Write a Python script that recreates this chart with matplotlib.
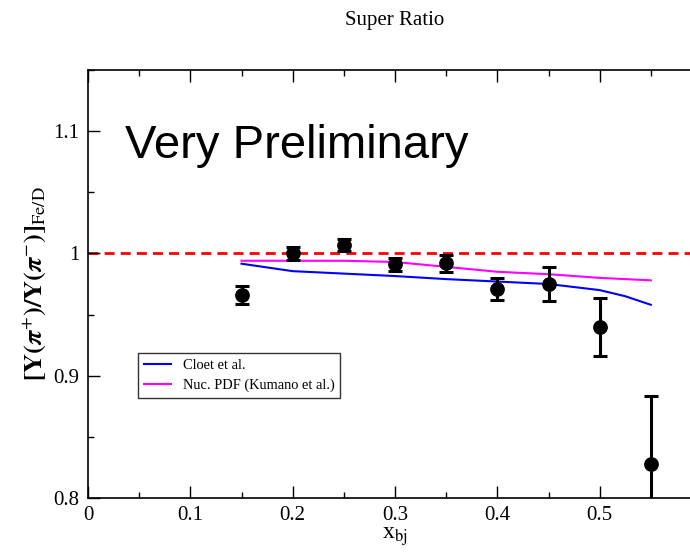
import matplotlib
matplotlib.use("Agg")
import matplotlib.pyplot as plt
from matplotlib.ticker import MultipleLocator

# Data
x_data = [0.15, 0.20, 0.25, 0.30, 0.35, 0.40, 0.45, 0.50, 0.55]
y_data = [0.966, 1.000, 1.007, 0.991, 0.992, 0.971, 0.975, 0.940, 0.828]
y_err = [0.0075, 0.005, 0.005, 0.0055, 0.007, 0.009, 0.014, 0.0235, 0.0555]

x_cloet = [0.15, 0.20, 0.25, 0.30, 0.35, 0.40, 0.45, 0.50, 0.525, 0.55]
y_cloet = [0.9916, 0.9855, 0.9835, 0.9815, 0.979, 0.977, 0.975, 0.970, 0.965, 0.958]

x_kumano = [0.15, 0.20, 0.25, 0.30, 0.35, 0.40, 0.45, 0.50, 0.55]
y_kumano = [0.994, 0.994, 0.994, 0.993, 0.989, 0.985, 0.983, 0.980, 0.978]

plt.rcParams['font.family'] = ['Liberation Serif', 'DejaVu Serif']
plt.rcParams['mathtext.fontset'] = 'stix'

fig = plt.figure(figsize=(6.9, 5.52), dpi=100)
ax = fig.add_axes([88/690, 54/552, 614/690, 428/552])

ax.axhline(1.0, color='#ff0000', lw=2.0, dashes=(3.6, 2.2), zorder=1)
ax.plot(x_cloet, y_cloet, color='#0000ff', lw=1.5, label='Cloet et al.', zorder=2)
ax.plot(x_kumano, y_kumano, color='#ff00ff', lw=1.5, label='Nuc. PDF (Kumano et al.)', zorder=2)
ax.errorbar(x_data, y_data, yerr=y_err, fmt='o', color='black', ms=9.6,
            elinewidth=2.2, capsize=5, capthick=2.2, zorder=3)

ax.set_xlim(0, 0.6)
ax.set_ylim(0.8, 1.15)
ax.xaxis.set_minor_locator(MultipleLocator(0.05))
ax.yaxis.set_minor_locator(MultipleLocator(0.05))
ax.set_xticks([0, 0.1, 0.2, 0.3, 0.4, 0.5])
ax.set_xticklabels(['0', '0.1', '0.2', '0.3', '0.4', '0.5'])
ax.set_yticks([0.8, 0.9, 1.0, 1.1])
ax.set_yticklabels(['0.8', '0.9', '1', '1.1'])
ax.tick_params(which='both', direction='in', top=True, right=True, labelsize=15, width=1)
ax.tick_params(which='major', length=8.6, pad=6)
ax.tick_params(which='minor', length=4.3)
for s in ax.spines.values():
    s.set_linewidth(1.2)

ax.set_xlabel(r'x$_{\mathrm{bj}}$', fontsize=17, labelpad=0)
ax.set_ylabel(r'$\mathbf{[Y(}\boldsymbol{\pi}^{+}\mathbf{)/Y(}\boldsymbol{\pi}^{-}\mathbf{)]}_{\mathrm{Fe/D}}$',
              fontsize=19, labelpad=4)
fig.text(395/690, 1 - 20/552, 'Super Ratio', ha='center', va='center', fontsize=15)

ax.text(0.036, 1.0784, 'Very Preliminary', fontsize=34, family='Liberation Sans',
        ha='left', va='baseline')

leg = ax.legend(loc='upper left', bbox_to_anchor=((138-88)/614, (498-353)/428),
                fontsize=10.4, frameon=True, fancybox=False, edgecolor='black',
                handlelength=1.9, borderpad=0.4, labelspacing=0.45, handletextpad=0.8,
                borderaxespad=0)
leg.get_frame().set_linewidth(1.0)

fig.savefig('out.png', dpi=100)
